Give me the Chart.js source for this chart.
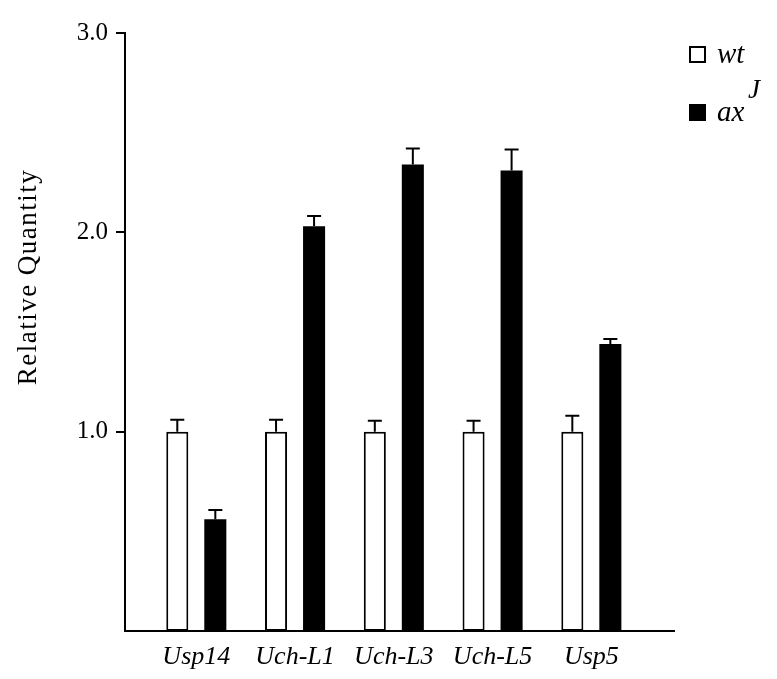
<!DOCTYPE html>
<html>
<head>
<meta charset="utf-8">
<script src="https://cdn.jsdelivr.net/npm/chart.js@4.4.0/dist/chart.umd.min.js"></script>
<style>
  html, body { margin: 0; padding: 0; background: #fff; }
  #wrap { width: 777px; height: 679px; }
</style>
</head>
<body>
<div id="wrap"><canvas id="qpcr"></canvas></div>
<script>
// values
const genes = ['Usp14', 'Uch-L1', 'Uch-L3', 'Uch-L5', 'Usp5'];
const wtValues = [1.0, 1.0, 1.0, 1.0, 1.0];
const wtErrors = [0.06, 0.06, 0.055, 0.055, 0.08];
const axValues = [0.56, 2.03, 2.34, 2.31, 1.44];
const axErrors = [0.047, 0.052, 0.08, 0.105, 0.025];
const yTicks = [1, 2, 3];
const seriesNames = ['wt', 'ax'];
const seriesSup = ['', 'J'];

const serif = "'Liberation Serif', 'Times New Roman', serif";

function toPoints(values) {
  return values.map((v, i) => ({ x: i, y: v }));
}

// error bars, upward only
const errorBars = {
  id: 'errorBars',
  afterDatasetsDraw(chart) {
    const ctx = chart.ctx;
    const yScale = chart.scales.y;
    ctx.save();
    ctx.strokeStyle = '#000';
    ctx.lineWidth = 2;
    chart.data.datasets.forEach((ds, di) => {
      const meta = chart.getDatasetMeta(di);
      meta.data.forEach((bar, i) => {
        const yTop = yScale.getPixelForValue(ds.data[i].y + ds.errors[i]);
        ctx.beginPath();
        ctx.moveTo(bar.x, bar.y);
        ctx.lineTo(bar.x, yTop);
        ctx.moveTo(bar.x - 7, yTop);
        ctx.lineTo(bar.x + 7, yTop);
        ctx.stroke();
      });
    });
    ctx.restore();
  }
};

// y title and legend (legend needs a superscript)
const extras = {
  id: 'extras',
  afterDraw(chart) {
    const ctx = chart.ctx;
    ctx.save();
    ctx.fillStyle = '#000';

    ctx.save();
    ctx.translate(29, 277);
    ctx.rotate(-Math.PI / 2);
    ctx.font = '27px ' + serif;
    ctx.letterSpacing = '1.5px';
    ctx.textAlign = 'center';
    ctx.textBaseline = 'middle';
    ctx.fillText('Relative Quantity', 0, 0);
    ctx.restore();

    const rows = [63, 121];
    chart.data.datasets.forEach((ds, i) => {
      const by = rows[i] - 16;
      ctx.fillStyle = ds.backgroundColor;
      ctx.fillRect(690, by, 15, 15);
      ctx.strokeStyle = '#000';
      ctx.lineWidth = 2;
      ctx.strokeRect(690, by, 15, 15);
      ctx.fillStyle = '#000';
      ctx.font = 'italic 29px ' + serif;
      ctx.textAlign = 'left';
      ctx.textBaseline = 'alphabetic';
      ctx.fillText(seriesNames[i], 717, rows[i]);
      if (seriesSup[i]) {
        ctx.font = 'italic 27px ' + serif;
        ctx.fillText(seriesSup[i], 748, rows[i] - 23);
      }
    });
    ctx.restore();
  }
};

const ctx = document.getElementById('qpcr').getContext('2d');
const chart = new Chart(ctx, {
  type: 'bar',
  data: {
    datasets: [
      {
        label: seriesNames[0],
        data: toPoints(wtValues),
        errors: wtErrors,
        backgroundColor: '#ffffff',
        borderColor: '#000000',
        borderWidth: 2,
        borderSkipped: false
      },
      {
        label: seriesNames[1],
        data: toPoints(axValues),
        errors: axErrors,
        backgroundColor: '#000000',
        borderWidth: 0
      }
    ]
  },
  options: {
    responsive: true,
    maintainAspectRatio: false,
    animation: false,
    categoryPercentage: 0.77,
    barPercentage: 0.58,
    layout: { padding: { top: 33, right: 103, left: 0, bottom: 0 } },
    plugins: {
      legend: { display: false },
      tooltip: { enabled: false }
    },
    scales: {
      x: {
        type: 'linear',
        offset: false,
        min: -0.722,
        max: 4.837,
        afterBuildTicks: scale => {
          scale.ticks = genes.map((g, i) => ({ value: i }));
        },
        afterFit: scale => { scale.height = 48; },
        grid: { display: false, offset: false },
        border: { display: true, color: '#000', width: 2 },
        ticks: {
          autoSkip: false,
          maxRotation: 0,
          padding: 3,
          color: '#000',
          font: { family: serif, size: 26, style: 'italic' },
          callback: value => genes[value]
        }
      },
      y: {
        min: 0,
        max: 3,
        afterBuildTicks: scale => {
          scale.ticks = yTicks.map(v => ({ value: v }));
        },
        afterFit: scale => { scale.width = 125; },
        grid: {
          display: true,
          drawOnChartArea: false,
          drawTicks: true,
          tickLength: 9,
          color: '#000',
          lineWidth: 2
        },
        border: { display: true, color: '#000', width: 2 },
        ticks: {
          padding: 8,
          color: '#000',
          font: { family: serif, size: 25 },
          callback: value => value.toFixed(1)
        }
      }
    }
  },
  plugins: [errorBars, extras]
});
</script>
</body>
</html>
